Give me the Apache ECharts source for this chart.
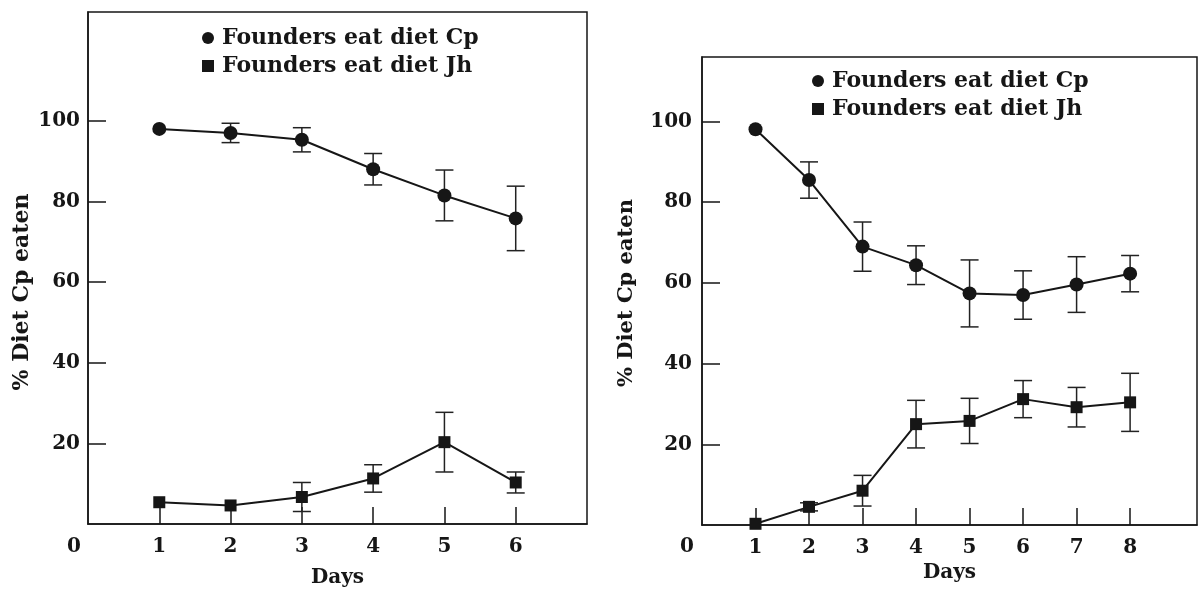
<!DOCTYPE html>
<html>
<head>
<meta charset="utf-8">
<script src="https://cdn.jsdelivr.net/npm/echarts@6/dist/echarts.min.js"></script>
<style>html,body{margin:0;padding:0;background:#fff;}#c{width:1203px;height:594px;}</style>
</head>
<body>
<div id="c"></div>
<script>
// ---- data ----
const daysA = [1, 2, 3, 4, 5, 6];
const cpMeanA = [98, 97, 95.3, 88, 81.5, 75.8];
const cpErrA  = [0, 2.4, 3, 3.9, 6.3, 8];
const jhMeanA = [5.4, 4.6, 6.7, 11.3, 20.3, 10.3];
const jhErrA  = [0, 0, 3.6, 3.4, 7.4, 2.6];

const daysB = [1, 2, 3, 4, 5, 6, 7, 8];
const cpMeanB = [98.1, 85.5, 69, 64.4, 57.4, 57, 59.6, 62.3];
const cpErrB  = [0, 4.5, 6.1, 4.8, 8.3, 6, 6.9, 4.5];
const jhMeanB = [0.3, 4.5, 8.5, 25, 25.8, 31.2, 29.2, 30.4];
const jhErrB  = [0, 1, 3.8, 5.9, 5.6, 4.6, 4.9, 7.2];

const yTicks = [20, 40, 60, 80, 100];
const xTicksA = [1, 2, 3, 4, 5, 6];
const xTicksB = [1, 2, 3, 4, 5, 6, 7, 8];

const nameCp = 'Founders eat diet Cp';
const nameJh = 'Founders eat diet Jh';
const yTitle = '% Diet Cp eaten';
const xTitle = 'Days';

// ---- styling ----
const INK = '#161616';
const FONT = 'DejaVu Serif';

function pairs(xs, ys) { return xs.map((x, i) => [x, ys[i]]); }
function errData(xs, m, e) { return xs.map((x, i) => [x, m[i] - e[i], m[i] + e[i]]); }

function errRender(params, api) {
  const x = api.value(0), lo = api.value(1), hi = api.value(2);
  if (hi - lo <= 0) return null;
  const p1 = api.coord([x, hi]), p2 = api.coord([x, lo]);
  const w = 9;
  const st = { stroke: '#222', lineWidth: 1.5 };
  return {
    type: 'group',
    children: [
      { type: 'line', shape: { x1: p1[0], y1: p1[1], x2: p2[0], y2: p2[1] }, style: st },
      { type: 'line', shape: { x1: p1[0] - w, y1: p1[1], x2: p1[0] + w, y2: p1[1] }, style: st },
      { type: 'line', shape: { x1: p2[0] - w, y1: p2[1], x2: p2[0] + w, y2: p2[1] }, style: st }
    ]
  };
}

function xAxis(gi, max, ticks, gap) {
  return {
    type: 'value', gridIndex: gi, min: 0, max: max, interval: 1,
    name: xTitle, nameLocation: 'middle', nameGap: gap,
    nameTextStyle: { fontFamily: FONT, fontSize: 20, fontWeight: 'bold', color: INK },
    axisLine: { show: true, lineStyle: { color: INK, width: 1.5 } },
    axisTick: { show: true, inside: true, length: 17, customValues: ticks, lineStyle: { color: INK, width: 1.5 } },
    axisLabel: { customValues: ticks, margin: 13, fontFamily: FONT, fontSize: 20, fontWeight: 'bold', color: INK },
    splitLine: { show: false }
  };
}
function yAxis(gi, max, margin) {
  return {
    type: 'value', gridIndex: gi, min: 0, max: max, interval: 20,
    axisLine: { show: true, lineStyle: { color: INK, width: 1.5 } },
    axisTick: { show: true, inside: true, length: 18, customValues: yTicks, lineStyle: { color: INK, width: 1.5 } },
    axisLabel: { customValues: yTicks, margin: margin, fontFamily: FONT, fontSize: 20, fontWeight: 'bold', color: INK },
    splitLine: { show: false }
  };
}
function lineSeries(name, gi, data, symbol, size) {
  return {
    type: 'line', name: name, xAxisIndex: gi, yAxisIndex: gi, data: data,
    symbol: symbol, symbolSize: size, z: 5, color: INK,
    lineStyle: { color: INK, width: 2 }, itemStyle: { color: INK },
    emphasis: { disabled: true }
  };
}
function errSeries(name, gi, data) {
  return {
    type: 'custom', name: name, xAxisIndex: gi, yAxisIndex: gi, data: data,
    renderItem: errRender, z: 3, color: INK, itemStyle: { color: INK },
    encode: { x: 0, y: [1, 2] }
  };
}
function legend(left, top) {
  return {
    left: left, top: top, orient: 'vertical', itemGap: 6,
    itemWidth: 12, itemHeight: 12,
    textStyle: { fontFamily: FONT, fontSize: 22, fontWeight: 'bold', color: INK, padding: [0, 0, 0, 3] },
    data: [
      { name: nameCp, icon: 'circle', itemStyle: { color: INK } },
      { name: nameJh, icon: 'rect', itemStyle: { color: INK } }
    ],
    selectedMode: false
  };
}

const chart = echarts.init(document.getElementById('c'), null, { renderer: 'canvas' });
chart.setOption({
  backgroundColor: '#fff',
  animation: false,
  color: [INK],
  grid: [
    { left: 88, top: 12, width: 499, height: 512, show: true, borderColor: INK, borderWidth: 1.5, backgroundColor: 'transparent' },
    { left: 702, top: 57, width: 495, height: 468, show: true, borderColor: INK, borderWidth: 1.5, backgroundColor: 'transparent' }
  ],
  xAxis: [xAxis(0, 7, xTicksA, 44), xAxis(1, 9.25, xTicksB, 37)],
  yAxis: [yAxis(0, 127, 8), yAxis(1, 116, 10)],
  legend: [legend(197, 22), legend(807, 65)],
  series: [
    errSeries(nameCp, 0, errData(daysA, cpMeanA, cpErrA)),
    errSeries(nameJh, 0, errData(daysA, jhMeanA, jhErrA)),
    lineSeries(nameCp, 0, pairs(daysA, cpMeanA), 'circle', 14),
    lineSeries(nameJh, 0, pairs(daysA, jhMeanA), 'rect', 12),
    errSeries(nameCp, 1, errData(daysB, cpMeanB, cpErrB)),
    errSeries(nameJh, 1, errData(daysB, jhMeanB, jhErrB)),
    lineSeries(nameCp, 1, pairs(daysB, cpMeanB), 'circle', 14),
    lineSeries(nameJh, 1, pairs(daysB, jhMeanB), 'rect', 12)
  ],
  graphic: [
    { type: 'text', x: 81, y: 547, style: { text: '0', textAlign: 'right', textVerticalAlign: 'middle', font: 'bold 20px "DejaVu Serif"', fill: INK } },
    { type: 'text', x: 694, y: 547, style: { text: '0', textAlign: 'right', textVerticalAlign: 'middle', font: 'bold 20px "DejaVu Serif"', fill: INK } },
    { type: 'text', x: 22, y: 292, rotation: Math.PI / 2, style: { text: yTitle, textAlign: 'center', textVerticalAlign: 'middle', font: 'bold 22px "DejaVu Serif"', fill: INK } },
    { type: 'text', x: 627, y: 293, rotation: Math.PI / 2, style: { text: yTitle, textAlign: 'center', textVerticalAlign: 'middle', font: 'bold 21px "DejaVu Serif"', fill: INK } }
  ]
});
</script>
</body>
</html>
